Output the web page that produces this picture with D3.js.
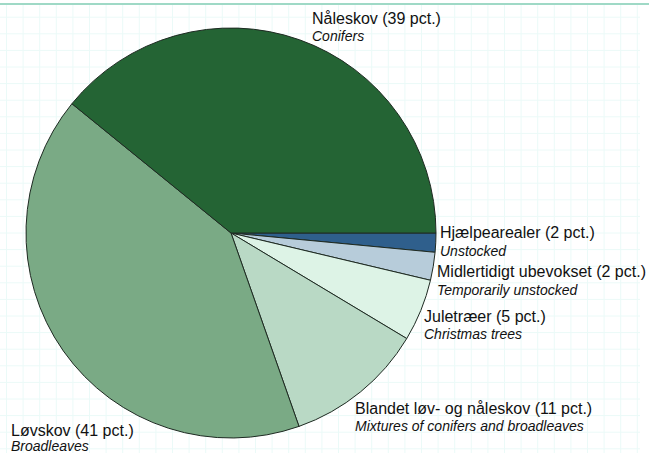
<!DOCTYPE html>
<html><head><meta charset="utf-8">
<script src="https://cdn.jsdelivr.net/npm/d3@7"></script>
<style>html,body{margin:0;padding:0;background:#fff;}svg{display:block;}</style>
</head><body>
<script>
const categories = ["Hjælpearealer","Midlertidigt ubevokset","Juletræer","Blandet løv- og nåleskov","Løvskov","Nåleskov"];
const englishNames = ["Unstocked","Temporarily unstocked","Christmas trees","Mixtures of conifers and broadleaves","Broadleaves","Conifers"];
const values = [1.5, 2.2, 4.9, 11.0, 41.2, 39.1];
const pctLabels = ["2 pct.","2 pct.","5 pct.","11 pct.","41 pct.","39 pct."];
const colors = ["#2f5f8c","#b7ccda","#ddf3e6","#b9d9c5","#7aaa85","#246434"];

const W = 649, H = 453;
const svg = d3.select("body").append("svg").attr("width", W).attr("height", H);

// faint background grid
const grid = svg.append("g");
const step = 16.6;
for (let x = 6.5; x < 640; x += step) grid.append("line").attr("x1", x).attr("x2", x).attr("y1", 5).attr("y2", H).attr("stroke", "#ebfaf8").attr("stroke-width", 1);
for (let y = 17.2; y < H; y += step) grid.append("line").attr("x1", 0).attr("x2", 640).attr("y1", y).attr("y2", y).attr("stroke", "#ebfaf8").attr("stroke-width", 1);

// top rule
svg.append("rect").attr("x", 0).attr("y", 3).attr("width", W).attr("height", 2).attr("fill", "#9fd9c6");

const cx = 231, cy = 233, r = 205;
const data = categories.map((c, i) => ({c, v: values[i], i}));
// start at 3 o'clock, go clockwise
const pie = d3.pie().value(d => d.v).sort(null)
  .startAngle(Math.PI / 2).endAngle(Math.PI / 2 + 2 * Math.PI);
const arc = d3.arc().innerRadius(0).outerRadius(r);
const g = svg.append("g").attr("transform", `translate(${cx},${cy})`);
g.selectAll("path").data(pie(data)).join("path")
  .attr("d", arc)
  .attr("fill", d => colors[d.data.i])
  .attr("stroke", "#1e2a22").attr("stroke-width", 1).attr("stroke-linejoin", "round");

const labelPos = [
  [440, 238, 256],
  [437, 277, 295],
  [424, 322, 339],
  [355, 414, 431],
  [11, 436, 451],
  [312, 24, 41]
];
const font = "'Liberation Sans', Arial, sans-serif";
categories.forEach((c, i) => {
  const [x, y1, y2] = labelPos[i];
  svg.append("text").attr("x", x).attr("y", y1).attr("font-family", font).attr("font-size", 16)
    .attr("fill", "#111").text(`${c} (${pctLabels[i]})`);
  svg.append("text").attr("x", x).attr("y", y2).attr("font-family", font).attr("font-size", 14)
    .attr("font-style", "italic").attr("fill", "#111").text(englishNames[i]);
});
</script>
</body></html>
